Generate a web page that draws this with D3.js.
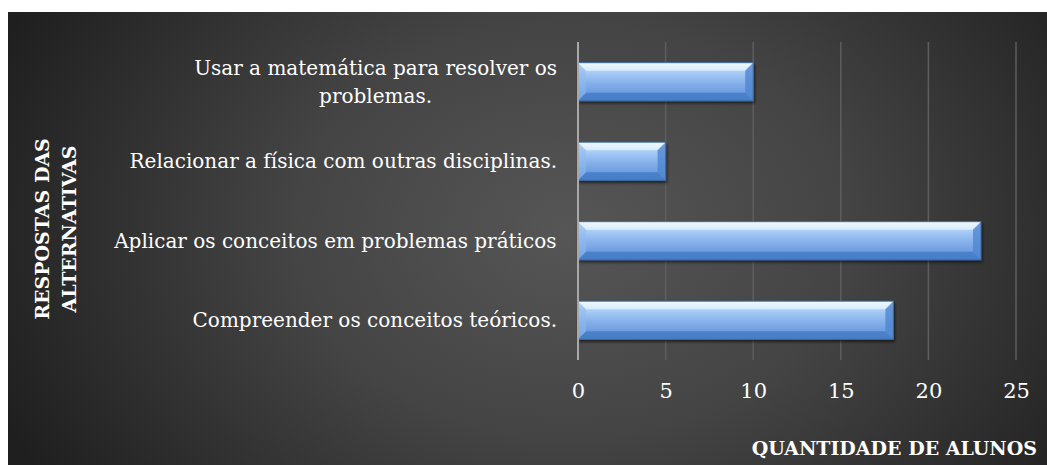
<!DOCTYPE html>
<html>
<head>
<meta charset="utf-8">
<script src="https://cdn.jsdelivr.net/npm/d3@7"></script>
<style>
  html, body { margin: 0; padding: 0; background: #fff; }
  svg { display: block; }
  text { font-family: 'DejaVu Serif', 'Liberation Serif', serif; fill: #fff; }
</style>
</head>
<body>
<script>
// chart data
var categories = [
  ['Usar a matemática para resolver os', 'problemas.'],
  ['Relacionar a física com outras disciplinas.'],
  ['Aplicar os conceitos em problemas práticos'],
  ['Compreender os conceitos teóricos.']
];
var values = [10, 5, 23, 18];
var xTicks = [0, 5, 10, 15, 20, 25];
var xTitle = 'QUANTIDADE DE ALUNOS';
var yTitle = ['RESPOSTAS DAS', 'ALTERNATIVAS'];

var width = 1047, height = 465;
var plotLeft = 578, plotRight = 1016, plotTop = 42, plotBottom = 360;
var bevel = 8;

var svg = d3.select('body').append('svg')
  .attr('width', width)
  .attr('height', height);

var defs = svg.append('defs');

// background gradient
var bg = defs.append('radialGradient')
  .attr('id', 'bgGrad')
  .attr('gradientUnits', 'userSpaceOnUse')
  .attr('cx', 570).attr('cy', 230).attr('r', 620)
  .attr('gradientTransform', 'translate(570,230) scale(1,0.75) translate(-570,-230)');
bg.append('stop').attr('offset', '0%').attr('stop-color', '#565656');
bg.append('stop').attr('offset', '45%').attr('stop-color', '#444444');
bg.append('stop').attr('offset', '100%').attr('stop-color', '#1f1f1f');

// bar face gradient
var barGrad = defs.append('linearGradient')
  .attr('id', 'barGrad').attr('x1', 0).attr('y1', 0).attr('x2', 0).attr('y2', 1);
barGrad.append('stop').attr('offset', '0%').attr('stop-color', '#e8f7ff');
barGrad.append('stop').attr('offset', '25%').attr('stop-color', '#a8ccf7');
barGrad.append('stop').attr('offset', '55%').attr('stop-color', '#84afea');
barGrad.append('stop').attr('offset', '100%').attr('stop-color', '#5a8ed5');

var shadow = defs.append('filter').attr('id', 'barShadow')
  .attr('x', '-5%').attr('y', '-20%').attr('width', '110%').attr('height', '160%');
shadow.append('feDropShadow')
  .attr('dx', 1).attr('dy', 2).attr('stdDeviation', 1.5)
  .attr('flood-color', '#000').attr('flood-opacity', 0.6);

svg.append('rect')
  .attr('x', 8).attr('y', 12)
  .attr('width', width - 8).attr('height', height - 12)
  .attr('fill', 'url(#bgGrad)');

// scales
var x = d3.scaleLinear().domain([0, 25]).range([plotLeft, plotRight]);
var y = d3.scaleBand()
  .domain(d3.range(categories.length))
  .range([plotTop, plotBottom])
  .paddingInner(0.52).paddingOuter(0.26);

// gridlines
svg.append('g').selectAll('line')
  .data(xTicks.filter(function (d) { return d > 0; }))
  .enter().append('line')
  .attr('x1', function (d) { return x(d); })
  .attr('x2', function (d) { return x(d); })
  .attr('y1', plotTop).attr('y2', plotBottom)
  .attr('stroke', '#5e5e5e').attr('stroke-width', 1.5);

// x axis tick labels
var xAxis = d3.axisBottom(x).tickValues(xTicks).tickSize(0).tickPadding(0);
var xAxisEl = svg.append('g')
  .attr('transform', 'translate(0,' + 398 + ')')
  .call(xAxis);
xAxisEl.select('.domain').remove();
xAxisEl.selectAll('text')
  .attr('fill', '#fff')
  .attr('dy', '0')
  .style('font-size', '21px')
  .style('font-family', "'DejaVu Serif', serif");

// bars
var bars = svg.append('g').selectAll('g')
  .data(values)
  .enter().append('g')
  .attr('filter', 'url(#barShadow)');

bars.each(function (v, i) {
  var g = d3.select(this);
  var x0 = x(0), x1 = x(v), y0 = y(i), h = y.bandwidth(), y1 = y0 + h;
  g.append('rect')
    .attr('x', x0).attr('y', y0).attr('width', x1 - x0).attr('height', h)
    .attr('fill', 'url(#barGrad)');
  // top bevel
  g.append('polygon')
    .attr('points', [[x0, y0], [x1, y0], [x1 - bevel, y0 + bevel], [x0 + bevel, y0 + bevel]].join(' '))
    .attr('fill', '#f2fbff').attr('opacity', 0.6);
  // bottom bevel
  g.append('polygon')
    .attr('points', [[x0, y1], [x1, y1], [x1 - bevel, y1 - bevel], [x0 + bevel, y1 - bevel]].join(' '))
    .attr('fill', '#3f78c4').attr('opacity', 0.75);
  // left bevel
  g.append('polygon')
    .attr('points', [[x0, y0], [x0 + bevel, y0 + bevel], [x0 + bevel, y1 - bevel], [x0, y1]].join(' '))
    .attr('fill', '#8fb9ef').attr('opacity', 0.55);
  // right bevel
  g.append('polygon')
    .attr('points', [[x1, y0], [x1 - bevel, y0 + bevel], [x1 - bevel, y1 - bevel], [x1, y1]].join(' '))
    .attr('fill', '#4f86cf').attr('opacity', 0.8);
  g.append('rect')
    .attr('x', x0).attr('y', y0).attr('width', x1 - x0).attr('height', h)
    .attr('fill', 'none').attr('stroke', '#3b6aa6').attr('stroke-width', 1);
});

// vertical axis line at zero
svg.append('line')
  .attr('x1', x(0)).attr('x2', x(0))
  .attr('y1', plotTop).attr('y2', plotBottom)
  .attr('stroke', '#a8a8a8').attr('stroke-width', 2);

// category labels
var labelRight = 557, lineH = 28;
var labels = svg.append('g').selectAll('g')
  .data(categories)
  .enter().append('g');

labels.each(function (lines, i) {
  var g = d3.select(this);
  var cy = y(i) + y.bandwidth() / 2;
  var t = g.append('text')
    .style('font-size', '20px')
    .attr('text-anchor', 'middle');
  lines.forEach(function (l, j) {
    t.append('tspan')
      .attr('x', 0)
      .attr('y', cy + (j - (lines.length - 1) / 2) * lineH + 7)
      .text(l);
  });
  // right-align the block, center lines within it
  var w = t.node().getBBox().width;
  t.attr('transform', 'translate(' + (labelRight - w / 2) + ',0)');
});

// axis titles
svg.append('text')
  .attr('x', 1037).attr('y', 455)
  .attr('text-anchor', 'end')
  .style('font-size', '19px').style('font-weight', 'bold')
  .text(xTitle);

var yt = svg.append('text')
  .attr('transform', 'translate(0,229) rotate(-90)')
  .attr('text-anchor', 'middle')
  .style('font-size', '19px').style('font-weight', 'bold');
yTitle.forEach(function (l, j) {
  yt.append('tspan').attr('x', 0).attr('y', 49 + j * 27).text(l);
});
</script>
</body>
</html>
